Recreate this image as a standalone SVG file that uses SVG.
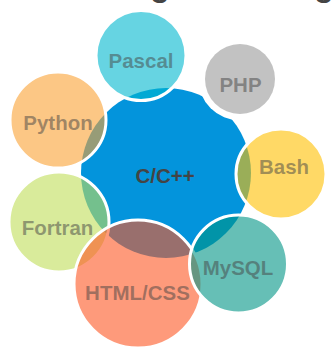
<svg xmlns="http://www.w3.org/2000/svg" width="331" height="351" viewBox="0 0 331 351">
<style>
.b{stroke:#fff;stroke-width:3;fill-opacity:0.6}
.t{font-family:"Liberation Sans",Arial,sans-serif;font-weight:bold;font-size:20.5px;text-anchor:middle;fill:#444;fill-opacity:0.5}
.c{fill-opacity:1}
</style>
<rect width="331" height="351" fill="#fff"/>
<text class="t c" x="160" y="-4" style="font-size:32px">g</text>
<text class="t c" x="324" y="-4" style="font-size:32px">g</text>
<g id="cpp">
<circle cx="166" cy="173" r="85" fill="#0394dc"/>
</g>
<circle cx="240" cy="79" r="41.5" fill="#fff"/>
<g id="pascal"><circle class="b" cx="141" cy="55.5" r="45" fill="#00b7cf"/><text class="t" x="141" y="68">Pascal</text></g>
<g id="php"><circle cx="240" cy="79" r="35" fill="#9a9a9a" fill-opacity="0.6"/><text class="t" x="240.5" y="92">PHP</text></g>
<g id="python"><circle class="b" cx="58" cy="120" r="48" fill="#faa234"/><text class="t" x="58" y="130">Python</text></g>
<g id="bash"><circle class="b" cx="281" cy="174" r="45" fill="#ffc000"/><text class="t" x="284" y="173.5">Bash</text></g>
<g id="fortran"><circle class="b" cx="59" cy="222" r="50" fill="#c0de58"/><text class="t" x="57.5" y="235">Fortran</text></g>
<g id="html"><circle class="b" cx="138" cy="284" r="64" fill="#fd5723"/><text class="t" x="137.5" y="300">HTML/CSS</text></g>
<g id="mysql"><circle class="b" cx="238.5" cy="264" r="49" fill="#009485"/><text class="t" x="238" y="275">MySQL</text></g>
<g id="cpp-label"><text class="t c" x="165" y="183">C/C++</text></g>
<g id="connectors"/>
</svg>
